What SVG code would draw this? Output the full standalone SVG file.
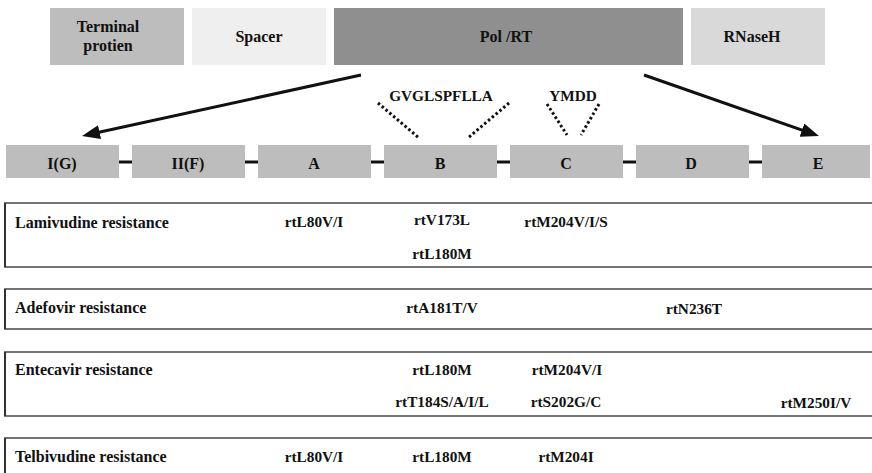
<svg xmlns="http://www.w3.org/2000/svg" width="872" height="473" viewBox="0 0 872 473">
<style>
  text { font-family: "Liberation Serif", "Times New Roman", serif; font-weight: bold; font-size: 15.3px; fill: #111; }
  .c { text-anchor: middle; }
  .big { font-size: 16px; }
  .motif rect { fill: #bdbdbd; }
  .panel { fill: #fff; stroke: #666; stroke-width: 1.8; }
  .pleft { stroke: #222; stroke-width: 1.6; }
  .dash { stroke: #111; stroke-width: 3; }
  .dot { stroke: #111; stroke-width: 3; stroke-dasharray: 2.5 2.5; fill: none; }
  .arrow { stroke: #111; stroke-width: 3; fill: none; marker-end: url(#ah); }
</style>
<defs>
  <marker id="ah" markerUnits="userSpaceOnUse" markerWidth="18" markerHeight="14" viewBox="0 0 18 14" refX="10" refY="7" orient="auto">
    <path d="M0,0 L18,7 L0,14 Z" fill="#111"/>
  </marker>
</defs>
<rect width="872" height="473" fill="#fff"/>

<!-- top domains -->
<g id="terminal">
  <rect x="50" y="8" width="134" height="57" fill="#bdbdbd"/>
  <text class="c big" x="108" y="32">Terminal</text>
  <text class="c big" x="108" y="51">protien</text>
</g>
<g id="spacer">
  <rect x="192" y="8" width="134" height="57" fill="#efefef"/>
  <text class="c big" x="259" y="42">Spacer</text>
</g>
<g id="polrt">
  <rect x="334" y="8" width="349" height="57" fill="#8f8f8f"/>
  <text class="c big" x="506" y="42">Pol /RT</text>
</g>
<g id="rnaseh">
  <rect x="691" y="8" width="134" height="57" fill="#d9d9d9"/>
  <text class="c big" x="752" y="42">RNaseH</text>
</g>

<!-- motif labels -->
<g id="gvglspflla"><text class="c" x="441" y="101">GVGLSPFLLA</text></g>
<g id="ymdd"><text class="c" x="573" y="101">YMDD</text></g>

<!-- motif boxes -->
<g id="motif-IG" class="motif"><rect x="6" y="145" width="113" height="33"/><text class="c big" x="62" y="169">I(G)</text></g>
<g id="motif-IIF" class="motif"><rect x="132" y="145" width="113" height="33"/><text class="c big" x="188" y="169">II(F)</text></g>
<g id="motif-A" class="motif"><rect x="258" y="145" width="113" height="33"/><text class="c big" x="314" y="169">A</text></g>
<g id="motif-B" class="motif"><rect x="384" y="145" width="113" height="33"/><text class="c big" x="440" y="169">B</text></g>
<g id="motif-C" class="motif"><rect x="510" y="145" width="113" height="33"/><text class="c big" x="566" y="169">C</text></g>
<g id="motif-D" class="motif"><rect x="636" y="145" width="113" height="33"/><text class="c big" x="691" y="169">D</text></g>
<g id="motif-E" class="motif"><rect x="762" y="145" width="108" height="33"/><text class="c big" x="818" y="169">E</text></g>

<!-- connectors -->
<g id="connectors">
  <line class="dash" x1="119" y1="162" x2="132" y2="162"/>
  <line class="dash" x1="245" y1="162" x2="258" y2="162"/>
  <line class="dash" x1="371" y1="162" x2="384" y2="162"/>
  <line class="dash" x1="497" y1="162" x2="510" y2="162"/>
  <line class="dash" x1="623" y1="162" x2="636" y2="162"/>
  <line class="dash" x1="749" y1="162" x2="762" y2="162"/>
  <line class="dot" x1="378" y1="103" x2="419" y2="138"/>
  <line class="dot" x1="509" y1="103" x2="468" y2="138"/>
  <line class="dot" x1="547" y1="104" x2="567" y2="135"/>
  <line class="dot" x1="599" y1="104" x2="581" y2="135"/>
  <line class="arrow" x1="361" y1="75" x2="89.8" y2="134.3"/>
  <line class="arrow" x1="644" y1="75" x2="811.4" y2="133.4"/>
</g>

<!-- resistance panels -->
<g id="lamivudine">
  <rect class="panel" x="5" y="203" width="880" height="64"/>
  <line class="pleft" x1="5" y1="203" x2="5" y2="267"/>
  <text class="big" x="15" y="228">Lamivudine resistance</text>
  <text class="c" x="314" y="227">rtL80V/I</text>
  <text class="c" x="442" y="225">rtV173L</text>
  <text class="c" x="566" y="227">rtM204V/I/S</text>
  <text class="c" x="442" y="259">rtL180M</text>
</g>
<g id="adefovir">
  <rect class="panel" x="5" y="289" width="880" height="40"/>
  <line class="pleft" x1="5" y1="289" x2="5" y2="329"/>
  <text class="big" x="15" y="313">Adefovir resistance</text>
  <text class="c" x="442" y="313">rtA181T/V</text>
  <text class="c" x="694" y="314">rtN236T</text>
</g>
<g id="entecavir">
  <rect class="panel" x="5" y="352" width="880" height="64"/>
  <line class="pleft" x1="5" y1="352" x2="5" y2="416"/>
  <text class="big" x="15" y="375">Entecavir resistance</text>
  <text class="c" x="442" y="375">rtL180M</text>
  <text class="c" x="567" y="375">rtM204V/I</text>
  <text class="c" x="442" y="407">rtT184S/A/I/L</text>
  <text class="c" x="566" y="407">rtS202G/C</text>
  <text class="c" x="816" y="408">rtM250I/V</text>
</g>
<g id="telbivudine">
  <rect class="panel" x="5" y="438" width="880" height="60"/>
  <line class="pleft" x1="5" y1="438" x2="5" y2="480"/>
  <text class="big" x="15" y="462">Telbivudine resistance</text>
  <text class="c" x="314" y="462">rtL80V/I</text>
  <text class="c" x="442" y="462">rtL180M</text>
  <text class="c" x="566" y="462">rtM204I</text>
</g>
</svg>
